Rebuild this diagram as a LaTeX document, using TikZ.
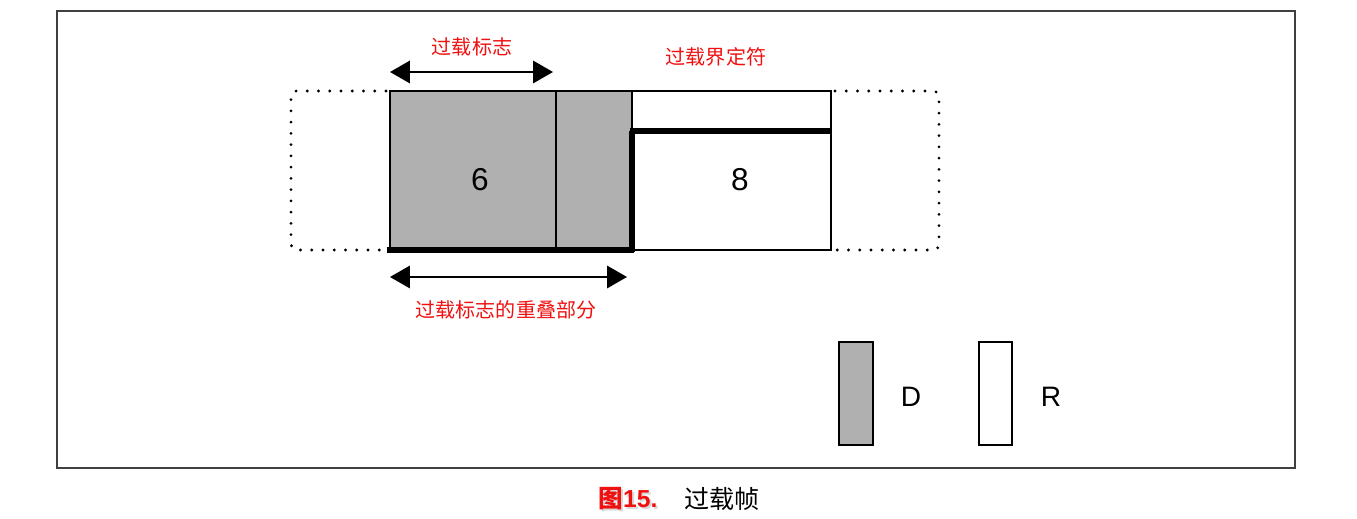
\documentclass[tikz,border=0pt]{standalone}
\usepackage{fontspec}
\setmainfont{Liberation Sans}
\newfontfamily\cjk{Noto Sans CJK SC}
\usetikzlibrary{arrows.meta, positioning}

\definecolor{fieldgray}{HTML}{B0B0B0}
\definecolor{labelred}{HTML}{F01010}

\begin{document}
\begin{tikzpicture}[
    x=0.02cm, y=-0.02cm,
    frame/.style={draw=black!75, line width=0.7pt},
    field/.style={draw, line width=0.9pt},
    bold edge/.style={line width=3.4pt},
    idle/.style={line width=1.8pt, dash pattern=on 0pt off 6.4pt, line cap=round, rounded corners=3pt},
    span/.style={{Triangle[length=0.4cm, width=0.45cm]}-{Triangle[length=0.4cm, width=0.45cm]}, line width=1.1pt},
    note/.style={text=labelred, font=\cjk\fontsize{11.4}{13}\selectfont},
    digit/.style={font=\fontsize{18}{20}\selectfont},
    key/.style={font=\fontsize{16}{18}\selectfont}
]
\useasboundingbox (0,0) rectangle (1357,519);

% frame
\draw[frame] (57,11) rectangle (1295,468);

% idle bits before and after
\draw[idle] (386,91) -- (291,91) -- (291,250) -- (386,250);
\draw[idle] (835,91) -- (939,91) -- (939,250) -- (835,250);

% overload flag (dominant)
\draw[field, fill=fieldgray] (390,91) rectangle (632,250);
\draw[field] (556,91) -- (556,250);
% delimiter (recessive)
\draw[field] (632,91) rectangle (831,250);
\draw[bold edge] (630,131) -- (831,131);
\draw[bold edge] (632,131) -- (632,252);
\draw[bold edge] (387,250) -- (634,250);

\node[digit] (six) at (480,180) {6};
\node[digit] (eight) at (740,180) {8};

% spans
\coordinate (flagL) at (390,72);
\coordinate (flagR) at (553,72);
\draw[span] (flagL) -- (flagR);
\node[note] (flag) at (472,47) {过载标志};

\coordinate (overL) at (390,277);
\coordinate (overR) at (627,277);
\draw[span] (overL) -- (overR);
\node[note] (overlap) at (506,310) {过载标志的重叠部分};

\node[note] (delim) at (716,57) {过载界定符};

% legend
\draw[field, fill=fieldgray] (839,342) rectangle (873,445);
\node[key] (dom) at (911,397) {D};
\draw[field] (979,342) rectangle (1012,445);
\node[key] (rec) at (1051,397) {R};

% caption
\node[text=black!15, font=\bfseries\fontsize{14}{16}\selectfont] (figshadow) at (630,501) {{\cjk\bfseries 图}15.};
\node[text=labelred, font=\bfseries\fontsize{14}{16}\selectfont] (fig) at (628,499) {{\cjk\bfseries 图}15.};
\node[font=\cjk\fontsize{14.3}{16}\selectfont] (title) at (722,499) {过载帧};

\end{tikzpicture}
\end{document}
